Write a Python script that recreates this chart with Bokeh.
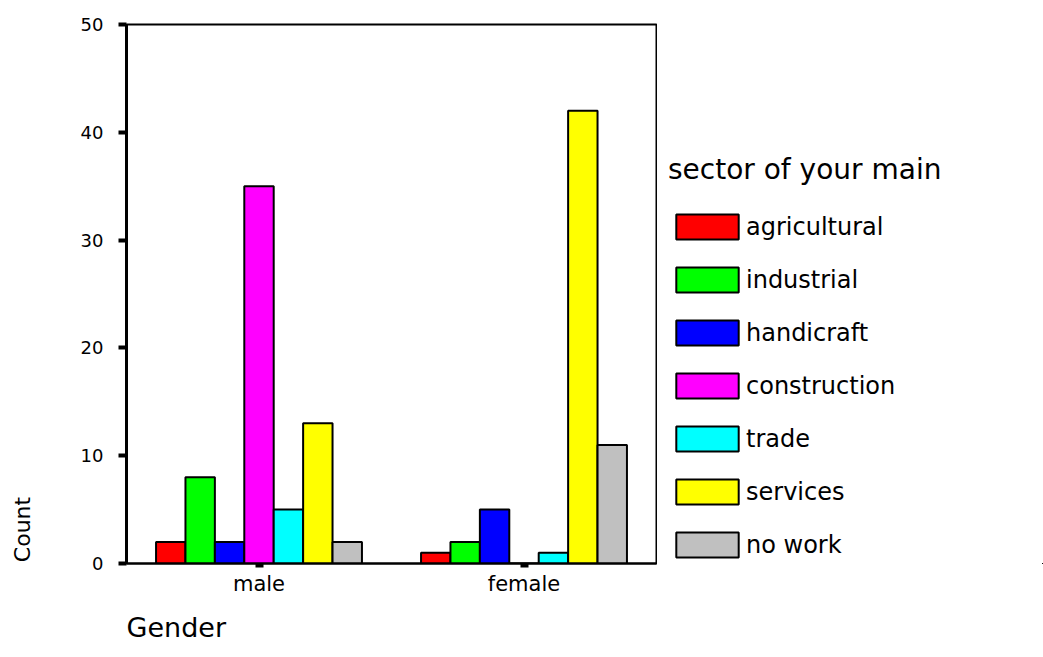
from bokeh.plotting import figure
from bokeh.models import (ColumnDataSource, FactorRange, Legend, LegendItem, Range1d,
                          FixedTicker, LinearAxis, Title)
from bokeh.transform import dodge
from bokeh.layouts import row
from bokeh.embed import file_html
from bokeh.resources import INLINE

genders = ["male", "female"]
sectors = ["agricultural", "industrial", "handicraft", "construction", "trade", "services", "no work"]
male_counts = [2, 8, 2, 35, 5, 13, 2]
female_counts = [1, 2, 5, 0, 1, 42, 11]
colors = ["#FF0000", "#00FF00", "#0000FF", "#FF00FF", "#00FFFF", "#FFFF00", "#C0C0C0"]
y_ticks = [0, 10, 20, 30, 40, 50]
legend_title = "sector of your main"
x_title = "Gender"
y_title = "Count"

FONT = "DejaVu Sans"

data = {"gender": genders}
for i, s in enumerate(sectors):
    data[f"s{i}"] = [male_counts[i], female_counts[i]]
src = ColumnDataSource(data)

H = 657
W1 = 657
W2 = 1043 - W1
FRAME_H = 539   # frame height in px (24..563)

# ---- main chart ----
p = figure(x_range=FactorRange(*genders), y_range=Range1d(0, 50),
           width=W1, height=H, output_backend="svg", toolbar_location=None,
           min_border_left=126, min_border_top=24, min_border_bottom=H - 563,
           min_border_right=1)
p.extra_y_ranges = {"py": Range1d(0, FRAME_H)}

bw = 0.111
for i, s in enumerate(sectors):
    p.vbar(x=dodge("gender", (i - 3) * bw, range=p.x_range), top=f"s{i}", width=bw,
           source=src, fill_color=colors[i], line_color="black", line_width=2)

p.xgrid.grid_line_color = None
p.ygrid.grid_line_color = None
p.outline_line_color = "black"
p.outline_line_width = 2
p.outline_line_alpha = 1.0

xa = p.xaxis[0]
xa.axis_line_width = 2
xa.axis_line_color = "black"
xa.major_tick_out = 4
xa.major_tick_in = 0
xa.major_tick_line_width = 8
xa.major_tick_line_color = "black"
xa.major_label_text_font = FONT
xa.major_label_text_font_size = "21px"
xa.major_label_text_color = "black"
xa.major_label_standoff = 4

ya = p.yaxis[0]
ya.ticker = FixedTicker(ticks=y_ticks)
ya.axis_line_width = 3
ya.axis_line_color = "black"
ya.major_tick_out = 8
ya.major_tick_in = 0
ya.major_tick_line_width = 4
ya.major_tick_line_color = "black"
ya.minor_tick_line_color = None
ya.major_label_text_font = FONT
ya.major_label_text_font_size = "18px"
ya.major_label_text_color = "black"
ya.major_label_standoff = 15

# x title
p.add_layout(Title(text=x_title, align="left", text_font=FONT, text_font_size="27px",
                   text_font_style="normal", text_color="black", standoff=22), "below")

# y title as a single label on a helper axis (pixel range), near the bottom
cy = 34
caxis = LinearAxis(y_range_name="py", ticker=FixedTicker(ticks=[cy]),
                   major_label_overrides={cy: y_title}, major_label_orientation="vertical",
                   axis_line_color=None, major_tick_line_color=None, minor_tick_line_color=None,
                   major_tick_out=0, major_tick_in=0, minor_tick_out=0, minor_tick_in=0,
                   major_label_standoff=43, major_label_text_font=FONT,
                   major_label_text_font_size="22px", major_label_text_color="black")
p.add_layout(caxis, "left")

# ---- legend panel ----
p2 = figure(x_range=FactorRange(*genders), y_range=Range1d(1000, 2000),
            width=W2, height=H, output_backend="svg", toolbar_location=None,
            min_border=0)
p2.axis.visible = False
p2.grid.visible = False
p2.outline_line_color = None
renderers = []
for i, s in enumerate(sectors):
    r = p2.vbar(x=dodge("gender", (i - 3) * bw + 10, range=p2.x_range), top=f"s{i}", width=bw,
                source=src, fill_color=colors[i], line_color="black", line_width=2)
    renderers.append(r)

legend = Legend(items=[LegendItem(label=s, renderers=[r]) for s, r in zip(sectors, renderers)],
                location=(11, 3), glyph_width=78, glyph_height=31, label_height=25,
                spacing=22, padding=0, margin=0, border_line_color=None,
                background_fill_alpha=0, label_text_font=FONT, label_text_font_size="24px",
                label_standoff=0, label_text_color="black",
                title=legend_title, title_text_font=FONT, title_text_font_size="28px",
                title_text_font_style="normal", title_text_color="black", title_standoff=25)
p2.add_layout(legend)

layout = row(p, p2)
open("out.html", "w").write(file_html(layout, INLINE))
